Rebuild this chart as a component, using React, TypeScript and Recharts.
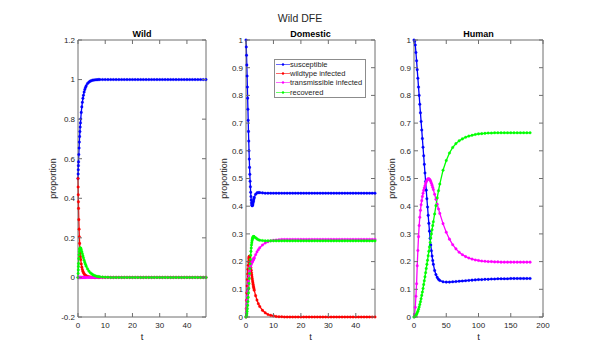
import { Line, LineChart, ReferenceLine, XAxis, YAxis } from 'recharts';

const BLUE = '#0000ff';
const RED = '#ff0000';
const MAGENTA = '#ff00ff';
const GREEN = '#00ff00';
const AXIS = '#6e6e6e';
const TEXT = '#262626';
const FONT = '"Liberation Sans", Arial, Helvetica, sans-serif';

const seriesKeys = ['sus', 'wt', 'tr', 'rec'];
const seriesNames = ['susceptible', 'wildtype infected', 'transmissible infected', 'recovered'];
const seriesColors = [BLUE, RED, MAGENTA, GREEN];

// ---- Wild ----
const wildT = [
  0, 0.05, 0.1, 0.15, 0.2, 0.3, 0.4, 0.5, 0.6, 0.7, 0.8, 0.9, 1, 1.2, 1.4, 1.6, 1.8, 2, 2.25, 2.5,
  2.75, 3, 3.5, 4, 4.5, 5, 5.5, 6, 6.5, 7, 7.5, 8,
  9, 10, 11, 12, 13, 14, 15, 16, 17, 18, 19, 20, 21, 22, 23, 24, 25, 26, 27, 28,
  29, 30, 31, 32, 33, 34, 35, 36, 37, 38, 39, 40, 41, 42, 43, 44, 45, 46, 47,
];
const wildSus = [
  0.5, 0.523, 0.544, 0.565, 0.584, 0.621, 0.654, 0.684, 0.712, 0.737, 0.76, 0.781, 0.801, 0.834, 0.862, 0.885,
  0.905, 0.921, 0.937, 0.95, 0.96, 0.968, 0.98, 0.987, 0.992, 0.995, 0.997, 0.998, 0.999, 0.999, 1, 1,
  1, 1, 1, 1, 1, 1, 1, 1, 1, 1,
  1, 1, 1, 1, 1, 1, 1, 1, 1, 1,
  1, 1, 1, 1, 1, 1, 1, 1, 1, 1,
  1, 1, 1, 1, 1, 1, 1, 1, 1,
];
const wildWt = [
  0.5, 0.457, 0.418, 0.382, 0.349, 0.292, 0.244, 0.205, 0.172, 0.145, 0.123, 0.105, 0.09, 0.068, 0.052, 0.04,
  0.031, 0.024, 0.018, 0.013, 0.01, 0.008, 0.005, 0.003, 0.002, 0.001, 0.001, 0, 0, 0, 0, 0,
  0, 0, 0, 0, 0, 0, 0, 0, 0, 0,
  0, 0, 0, 0, 0, 0, 0, 0, 0, 0,
  0, 0, 0, 0, 0, 0, 0, 0, 0, 0,
  0, 0, 0, 0, 0, 0, 0, 0, 0,
];
const wildTr = [
  0, 0, 0, 0, 0, 0, 0, 0, 0, 0, 0, 0, 0, 0, 0, 0,
  0, 0, 0, 0, 0, 0, 0, 0, 0, 0, 0, 0, 0, 0, 0, 0,
  0, 0, 0, 0, 0, 0, 0, 0, 0, 0,
  0, 0, 0, 0, 0, 0, 0, 0, 0, 0,
  0, 0, 0, 0, 0, 0, 0, 0, 0, 0,
  0, 0, 0, 0, 0, 0, 0, 0, 0,
];
const wildRec = [
  0, 0.02, 0.038, 0.055, 0.07, 0.095, 0.115, 0.13, 0.14, 0.146, 0.149, 0.149, 0.147, 0.14, 0.13, 0.12,
  0.109, 0.099, 0.087, 0.076, 0.066, 0.057, 0.043, 0.032, 0.024, 0.018, 0.013, 0.01, 0.007, 0.005, 0.004, 0.003,
  0.002, 0.001, 0.001, 0, 0, 0, 0, 0, 0, 0,
  0, 0, 0, 0, 0, 0, 0, 0, 0, 0,
  0, 0, 0, 0, 0, 0, 0, 0, 0, 0,
  0, 0, 0, 0, 0, 0, 0, 0, 0,
];

// ---- Domestic ----
const domT = [
  0, 0.1, 0.2, 0.3, 0.4, 0.5, 0.6, 0.7, 0.8, 0.9, 1, 1.1, 1.2, 1.3, 1.4, 1.5, 1.6, 1.7, 1.8, 1.9,
  2, 2.1, 2.2, 2.3, 2.4, 2.5, 2.6, 2.7, 2.8, 2.9, 3,
  3.5, 4, 4.5, 5,
  6, 7, 8, 9, 10, 11, 12, 13, 14, 15, 16, 17, 18, 19, 20, 21, 22, 23, 24, 25, 26,
  27, 28, 29, 30, 31, 32, 33, 34, 35, 36, 37, 38, 39, 40, 41, 42, 43, 44, 45, 46, 47,
];
const domSus = [
  1, 0.975, 0.945, 0.91, 0.87, 0.83, 0.79, 0.75, 0.71, 0.67, 0.635, 0.6, 0.57, 0.54, 0.515, 0.49,
  0.47, 0.45, 0.435, 0.422, 0.412, 0.405, 0.402, 0.402, 0.404, 0.408, 0.413, 0.418, 0.423, 0.428, 0.432,
  0.443, 0.448, 0.449, 0.449,
  0.448, 0.447, 0.447, 0.447, 0.447, 0.447, 0.447, 0.447, 0.447, 0.447,
  0.447, 0.447, 0.447, 0.447, 0.447, 0.447, 0.447, 0.447, 0.447, 0.447,
  0.447, 0.447, 0.447, 0.447, 0.447, 0.447, 0.447, 0.447, 0.447, 0.447,
  0.447, 0.447, 0.447, 0.447, 0.447, 0.447, 0.447, 0.447, 0.447, 0.447,
  0.447, 0.447,
];
const domWt = [
  0, 0.03, 0.06, 0.087, 0.112, 0.135, 0.155, 0.172, 0.187, 0.2, 0.21, 0.216, 0.219, 0.218, 0.213, 0.205,
  0.196, 0.187, 0.178, 0.169, 0.16, 0.152, 0.144, 0.137, 0.13, 0.124, 0.118, 0.112, 0.107, 0.102, 0.097,
  0.077, 0.061, 0.048, 0.038,
  0.024, 0.015, 0.009, 0.006, 0.004, 0.002, 0.001, 0.001, 0, 0,
  0, 0, 0, 0, 0, 0, 0, 0, 0, 0,
  0, 0, 0, 0, 0, 0, 0, 0, 0, 0,
  0, 0, 0, 0, 0, 0, 0, 0, 0, 0,
  0, 0,
];
const domTr = [
  0, 0.015, 0.03, 0.045, 0.06, 0.075, 0.09, 0.105, 0.118, 0.13, 0.141, 0.151, 0.16, 0.168, 0.175, 0.18,
  0.184, 0.187, 0.19, 0.192, 0.194, 0.196, 0.198, 0.2, 0.202, 0.204, 0.206, 0.208, 0.21, 0.212, 0.214,
  0.225, 0.235, 0.243, 0.25,
  0.26, 0.267, 0.272, 0.275, 0.277, 0.278, 0.279, 0.28, 0.28, 0.28,
  0.28, 0.28, 0.28, 0.28, 0.28, 0.28, 0.28, 0.28, 0.28, 0.28,
  0.28, 0.28, 0.28, 0.28, 0.28, 0.28, 0.28, 0.28, 0.28, 0.28,
  0.28, 0.28, 0.28, 0.28, 0.28, 0.28, 0.28, 0.28, 0.28, 0.28,
  0.28, 0.28,
];
const domRec = [
  0, 0.002, 0.006, 0.012, 0.02, 0.03, 0.042, 0.056, 0.071, 0.087, 0.104, 0.121, 0.139, 0.157, 0.175, 0.192,
  0.208, 0.223, 0.237, 0.249, 0.26, 0.268, 0.275, 0.28, 0.284, 0.287, 0.289, 0.29, 0.29, 0.29, 0.289,
  0.286, 0.282, 0.279, 0.277,
  0.276, 0.275, 0.275, 0.275, 0.275, 0.275, 0.275, 0.275, 0.275, 0.275,
  0.275, 0.275, 0.275, 0.275, 0.275, 0.275, 0.275, 0.275, 0.275, 0.275,
  0.275, 0.275, 0.275, 0.275, 0.275, 0.275, 0.275, 0.275, 0.275, 0.275,
  0.275, 0.275, 0.275, 0.275, 0.275, 0.275, 0.275, 0.275, 0.275, 0.275,
  0.275, 0.275,
];

// ---- Human (no wildtype infected curve drawn) ----
const humT = [
  0, 1, 2, 3, 4, 5, 6, 7, 8, 9, 10, 11, 12, 13, 14, 15, 16, 17, 18, 19, 20, 21, 22, 23, 24, 25, 26, 27, 28, 29, 30,
  32, 34, 36, 38, 40,
  45, 50, 55, 60, 65, 70, 75, 80, 85, 90, 95, 100, 105, 110, 115, 120, 125, 130, 135, 140, 145, 150, 155, 160,
  165, 170, 175, 180,
];
const humSus = [
  1, 0.995, 0.982, 0.955, 0.925, 0.893, 0.862, 0.83, 0.8, 0.768, 0.737, 0.706, 0.675, 0.644, 0.613, 0.582,
  0.551, 0.52, 0.489, 0.458, 0.427, 0.397, 0.367, 0.338, 0.31, 0.284, 0.26, 0.239, 0.22, 0.204, 0.19,
  0.168, 0.153, 0.143, 0.136, 0.132,
  0.127, 0.126, 0.126, 0.127, 0.128, 0.129, 0.13, 0.131, 0.132, 0.133,
  0.134, 0.135, 0.135, 0.136, 0.136, 0.137, 0.137, 0.138, 0.138, 0.138,
  0.138, 0.139, 0.139, 0.139, 0.139, 0.139, 0.139, 0.139,
];
const humTr = [
  0, 0.01, 0.035, 0.075, 0.12, 0.185, 0.24, 0.29, 0.33, 0.36, 0.385, 0.405, 0.42, 0.435, 0.447, 0.457,
  0.466, 0.474, 0.482, 0.488, 0.493, 0.497, 0.499, 0.499, 0.497, 0.494, 0.489, 0.483, 0.476, 0.468, 0.46,
  0.443, 0.425, 0.407, 0.39, 0.374,
  0.337, 0.306, 0.281, 0.261, 0.246, 0.234, 0.225, 0.218, 0.213, 0.209,
  0.206, 0.204, 0.202, 0.201, 0.2, 0.2, 0.199, 0.199, 0.198, 0.198,
  0.198, 0.198, 0.198, 0.198, 0.198, 0.198, 0.198, 0.198,
];
const humRec = [
  0, 0.001, 0.003, 0.006, 0.01, 0.015, 0.021, 0.028, 0.036, 0.045, 0.055, 0.066, 0.078, 0.09, 0.103, 0.117,
  0.131, 0.145, 0.16, 0.175, 0.19, 0.205, 0.221, 0.237, 0.253, 0.269, 0.285, 0.3, 0.315, 0.33, 0.344,
  0.372, 0.402, 0.43, 0.456, 0.48,
  0.53, 0.565, 0.592, 0.612, 0.626, 0.636, 0.643, 0.649, 0.653, 0.656,
  0.659, 0.661, 0.662, 0.663, 0.664, 0.664, 0.665, 0.665, 0.665, 0.665,
  0.665, 0.665, 0.665, 0.665, 0.665, 0.665, 0.665, 0.665,
];

const wildYTicks = [-0.2, 0, 0.2, 0.4, 0.6, 0.8, 1, 1.2];
const unitYTicks = [0, 0.1, 0.2, 0.3, 0.4, 0.5, 0.6, 0.7, 0.8, 0.9, 1];
const shortXTicks = [0, 10, 20, 30, 40];
const humanXTicks = [0, 50, 100, 150, 200];

function buildRows(t: number[], cols: (number[] | null)[]) {
  return t.map((tv, i) => {
    const row: Record<string, number> = { t: tv };
    seriesKeys.forEach((k, j) => {
      const c = cols[j];
      if (c) row[k] = c[i];
    });
    return row;
  });
}

const PLOT_TOP = 40;
const PLOT_BOTTOM = 317;

function XTick(props: any) {
  const { x, y, payload } = props;
  return (
    <g>
      <line x1={x} y1={y} x2={x} y2={y - 4} stroke={AXIS} />
      <line x1={x} y1={PLOT_TOP} x2={x} y2={PLOT_TOP + 4} stroke={AXIS} />
      <text x={x} y={y + 10.5} textAnchor="middle" fontSize={8} fontFamily={FONT} fill={TEXT}>
        {payload.value}
      </text>
    </g>
  );
}

function YTick(props: any) {
  const { x, y, payload, right } = props;
  return (
    <g>
      <line x1={x} y1={y} x2={x + 4} y2={y} stroke={AXIS} />
      <line x1={right} y1={y} x2={right - 4} y2={y} stroke={AXIS} />
      <text x={x - 3} y={y + 2.8} textAnchor="end" fontSize={8} fontFamily={FONT} fill={TEXT}>
        {payload.value}
      </text>
    </g>
  );
}

interface PanelProps {
  rows: Record<string, number>[];
  keys: string[];
  left: number;
  right: number;
  xDomain: [number, number];
  xTicks: number[];
  yDomain: [number, number];
  yTicks: number[];
}

function Panel({ rows, keys, left, right, xDomain, xTicks, yDomain, yTicks }: PanelProps) {
  return (
    <div style={{ position: 'absolute', left: 0, top: 0 }}>
      <LineChart
        width={600}
        height={354}
        data={rows}
        margin={{ top: PLOT_TOP, right: 600 - right, bottom: 354 - PLOT_BOTTOM - 30, left: left - 30 }}
      >
        <XAxis
          dataKey="t"
          type="number"
          domain={xDomain}
          ticks={xTicks}
          interval={0}
          height={30}
          tickSize={0}
          tickMargin={0}
          tickLine={false}
          axisLine={{ stroke: AXIS }}
          tick={(p: any) => <XTick {...p} />}
        />
        <YAxis
          type="number"
          domain={yDomain}
          ticks={yTicks}
          interval={0}
          width={30}
          tickSize={0}
          tickMargin={0}
          tickLine={false}
          axisLine={{ stroke: AXIS }}
          tick={(p: any) => <YTick {...p} right={right} />}
        />
        <ReferenceLine y={yDomain[1]} stroke={AXIS} />
        <ReferenceLine x={xDomain[1]} stroke={AXIS} />
        {seriesKeys.map((k, i) =>
          keys.includes(k) ? (
            <Line
              key={k}
              dataKey={k}
              name={seriesNames[i]}
              stroke={seriesColors[i]}
              strokeWidth={1.3}
              dot={{ r: 1.3, fill: seriesColors[i], stroke: seriesColors[i], strokeWidth: 0.3 }}
              activeDot={false}
              isAnimationActive={false}
            />
          ) : null,
        )}
      </LineChart>
    </div>
  );
}

function LegendBox() {
  return (
    <div
      style={{
        position: 'absolute',
        left: 274,
        top: 59,
        width: 90,
        border: '1px solid #8c8c8c',
        background: '#fff',
        fontFamily: FONT,
        fontSize: 7.5,
        color: TEXT,
      }}
    >
      {seriesNames.map((n, i) => (
        <div key={n} style={{ display: 'flex', alignItems: 'center', height: 9.2 }}>
          <svg width={15} height={9} style={{ flex: 'none' }}>
            <line x1={1} y1={4.5} x2={15} y2={4.5} stroke={seriesColors[i]} strokeWidth={0.6} />
            <circle cx={8} cy={4.5} r={1.2} fill={seriesColors[i]} />
          </svg>
          <span style={{ whiteSpace: 'nowrap', lineHeight: '9px' }}>{n}</span>
        </div>
      ))}
    </div>
  );
}

const panels = [
  { title: 'Wild', left: 78, right: 206, labelX: 55.5 },
  { title: 'Domestic', left: 246, right: 375, labelX: 227 },
  { title: 'Human', left: 414, right: 543, labelX: 395 },
];

function Labels() {
  const midY = (PLOT_TOP + PLOT_BOTTOM) / 2;
  return (
    <svg width={600} height={354} style={{ position: 'absolute', left: 0, top: 0, pointerEvents: 'none' }}>
      <text x={300} y={22} textAnchor="middle" fontSize={10.5} fontFamily={FONT} fill={TEXT}>
        Wild DFE
      </text>
      {panels.map((p) => {
        const cx = (p.left + p.right) / 2;
        return (
          <g key={p.title}>
            <text x={cx} y={37} textAnchor="middle" fontSize={9} fontWeight="bold" fontFamily={FONT} fill="#000">
              {p.title}
            </text>
            <text x={cx} y={339.5} textAnchor="middle" fontSize={9.5} fontFamily={FONT} fill={TEXT}>
              t
            </text>
            <text
              x={p.labelX}
              y={midY}
              transform={`rotate(-90 ${p.labelX} ${midY})`}
              textAnchor="middle"
              fontSize={9}
              fontFamily={FONT}
              fill={TEXT}
            >
              proportion
            </text>
          </g>
        );
      })}
    </svg>
  );
}

export default function App() {
  const wildRows = buildRows(wildT, [wildSus, wildWt, wildTr, wildRec]);
  const domRows = buildRows(domT, [domSus, domWt, domTr, domRec]);
  const humRows = buildRows(humT, [humSus, null, humTr, humRec]);
  return (
    <div style={{ position: 'absolute', left: 0, top: 0, width: 600, height: 354, background: '#fff' }}>
      <Panel rows={wildRows} keys={seriesKeys} left={78} right={206} xDomain={[0, 47]} xTicks={shortXTicks} yDomain={[-0.2, 1.2]} yTicks={wildYTicks} />
      <Panel rows={domRows} keys={seriesKeys} left={246} right={375} xDomain={[0, 47]} xTicks={shortXTicks} yDomain={[0, 1]} yTicks={unitYTicks} />
      <Panel rows={humRows} keys={['sus', 'tr', 'rec']} left={414} right={543} xDomain={[0, 200]} xTicks={humanXTicks} yDomain={[0, 1]} yTicks={unitYTicks} />
      <Labels />
      <LegendBox />
    </div>
  );
}
